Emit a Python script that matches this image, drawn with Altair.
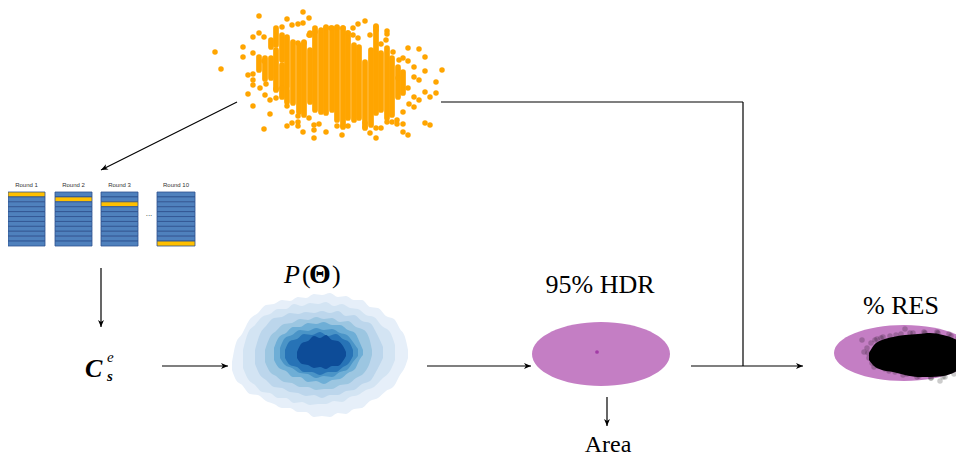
import altair as alt
import pandas as pd

# ---------------- data (pixel coordinates) ----------------
# orange cloud: dense vertical runs of dots (x, top, bottom)
col_x   = [259, 265, 271, 271, 276, 276, 282, 282, 287, 287, 293, 299, 304, 310, 310, 315, 321, 326,
           332, 337, 343, 348, 354, 359, 365, 371, 376, 381, 387, 392, 398, 403]
col_top = [57, 58, 40, 58, 28, 50, 35, 65, 37, 90, 42, 45, 42, 33, 50, 28, 32, 27,
           28, 27, 28, 33, 45, 47, 62, 50, 26, 53, 48, 58, 67, 72]
col_bot = [70, 79, 47, 78, 45, 90, 60, 97, 87, 102, 103, 112, 115, 35, 102, 110, 112, 113,
           110, 120, 127, 118, 120, 118, 128, 125, 113, 110, 118, 115, 97, 93]
# scattered orange dots
dot_x = [215, 221, 259, 303, 309, 287, 292, 298, 303, 282, 253, 259, 264, 243, 243, 253, 264,
         248, 253, 253, 253, 248, 253, 270, 264, 276, 282, 287, 287, 292, 298, 298, 303, 309,
         314, 314, 314, 319, 326, 337, 343, 348, 342, 365, 365, 370, 376, 376, 381, 387, 392,
         397, 397, 403, 403, 408, 414, 414, 419, 419, 425, 430, 436, 436, 442, 425, 425, 419,
         408, 414, 414, 403, 408, 425, 430, 365, 358, 353, 376, 376, 387, 387, 370, 348, 353,
         358, 331, 337, 343, 326, 321, 315, 309, 304, 298, 270, 276, 265, 260, 266, 292, 298,
         399, 393, 398, 408, 409, 403, 386, 381]
dot_y = [52, 69, 16, 12, 18, 19, 25, 24, 23, 27, 37, 33, 37, 47, 57, 53, 61,
         75, 74, 80, 85, 94, 106, 114, 129, 89, 88, 106, 126, 123, 122, 126, 132, 118,
         125, 130, 138, 124, 132, 126, 126, 126, 135, 123, 127, 133, 138, 128, 128, 122, 122,
         120, 124, 124, 132, 135, 107, 97, 100, 80, 92, 97, 82, 93, 70, 71, 57, 49,
         48, 67, 77, 58, 61, 123, 125, 21, 24, 28, 27, 30, 31, 34, 35, 33, 35,
         38, 28, 28, 28, 28, 30, 32, 35, 43, 43, 100, 98, 95, 88, 84, 112, 116,
         60, 52, 78, 88, 104, 112, 40, 44]

# round tables
round_labels = ["Round 1", "Round 2", "Round 3", "Round 10"]
table_left = [8, 55, 101, 157]
table_right = [45, 92, 138, 195]
table_top, table_bottom, n_rows = 192, 246, 11
yellow_row = [0, 1, 2, 10]

# density contour levels P(Theta): x samples with top / bottom edge
contour_colors = ["#e6eff9", "#d3e4f3", "#bcd6ec", "#9cc6e1", "#6eaed6",
                  "#4a94c7", "#2773b6", "#0d4c98"]
contour_x = [
    [232, 236, 242, 250, 258, 266, 274, 282, 290, 298, 306, 314, 322, 330, 338, 346, 354, 362, 370, 378, 386, 394, 400, 405, 408],
    [243, 248, 255, 262, 270, 278, 286, 294, 302, 310, 318, 326, 334, 342, 350, 358, 366, 374, 382, 390, 395],
    [255, 260, 266, 274, 282, 290, 298, 306, 314, 322, 330, 338, 346, 354, 362, 370, 377, 383],
    [265, 270, 276, 284, 292, 300, 308, 316, 324, 332, 340, 348, 356, 364, 370, 372],
    [274, 279, 286, 293, 300, 308, 316, 324, 332, 340, 348, 355, 360, 363],
    [280, 285, 292, 300, 308, 316, 324, 332, 340, 347, 353, 358],
    [285, 290, 297, 304, 312, 320, 328, 336, 343, 349, 353],
    [297, 302, 308, 314, 320, 326, 332, 338, 343, 346],
]
contour_top = [
    [362, 343, 334, 319, 313, 305, 304, 300, 301, 297, 298, 294, 295, 293, 297, 296, 300, 300, 307, 308, 316, 319, 329, 337, 350],
    [350, 333, 325, 317, 314, 309, 309, 304, 306, 303, 304, 302, 306, 304, 308, 309, 315, 317, 326, 332, 345],
    [350, 334, 326, 318, 317, 313, 314, 312, 313, 311, 313, 311, 316, 315, 321, 323, 334, 347],
    [350, 337, 331, 324, 323, 319, 320, 317, 319, 318, 322, 321, 327, 330, 341, 350],
    [348, 337, 333, 327, 327, 323, 324, 322, 325, 325, 330, 333, 343, 350],
    [348, 338, 335, 330, 331, 328, 330, 329, 333, 335, 342, 349],
    [350, 341, 339, 334, 335, 332, 336, 334, 339, 342, 350],
    [352, 343, 341, 336, 338, 335, 340, 341, 346, 352],
]
contour_bot = [
    [370, 380, 385, 394, 395, 401, 404, 408, 408, 412, 412, 417, 416, 417, 413, 414, 409, 408, 401, 398, 391, 386, 375, 367, 358],
    [368, 379, 385, 392, 393, 398, 398, 403, 402, 405, 404, 404, 401, 402, 397, 395, 390, 387, 379, 371, 360],
    [364, 375, 380, 387, 388, 392, 393, 396, 395, 398, 395, 395, 391, 390, 384, 381, 370, 358],
    [362, 372, 376, 382, 383, 387, 387, 390, 389, 389, 385, 384, 378, 373, 362, 355],
    [360, 368, 371, 377, 377, 382, 381, 384, 380, 379, 373, 369, 359, 355],
    [358, 365, 368, 373, 374, 378, 376, 377, 372, 370, 362, 356],
    [358, 365, 367, 372, 372, 375, 372, 372, 367, 363, 356],
    [358, 364, 365, 368, 367, 369, 366, 366, 361, 356],
]

# purple regions (centre x, centre y, half width, half height)
ellipse_cx = [601, 904]
ellipse_cy = [354, 353]
ellipse_rx = [69, 70]
ellipse_ry = [32, 28]

# black residual cloud core inside "% RES"
res_x   = [869, 874, 882, 893, 905, 918, 930, 943, 955, 964]
res_top = [353, 345, 340, 337, 335, 334, 333, 335, 339, 345]
res_bot = [360, 366, 370, 372, 375, 377, 377, 376, 372, 366]
# translucent fuzzy edge of the residual cloud
res_dot_x = [867, 868, 869, 871, 872, 875, 878, 881, 885, 890, 895, 901, 907, 913, 919, 925, 931, 937, 943, 949, 954,
             958, 877, 883, 889, 896, 903, 910, 917, 924, 931, 938, 945, 951, 864, 874, 862, 940, 905]
res_dot_y = [348, 353, 358, 343, 363, 340, 366, 338, 369, 336, 372, 334, 374, 333, 376, 333, 378, 332, 377, 334, 374,
             338, 339, 337, 371, 335, 375, 333, 377, 332, 378, 333, 377, 336, 352, 367, 340, 381, 329]

# connecting lines (x1, y1, x2, y2)
seg_x1 = [237, 101, 162, 427, 607, 441, 743, 691]
seg_y1 = [102, 268, 366, 366, 397, 102, 102, 366]
seg_x2 = [101, 101, 228, 531, 607, 743, 743, 803]
seg_y2 = [170, 327, 366, 366, 426, 102, 366, 366]
# arrow heads (tip x, tip y, angle)
head_x = [101, 101, 228, 531, 607, 803]
head_y = [170, 327, 366, 366, 426, 366]
head_a = [153.4, 90, 0, 0, 90, 0]

SERIF = "Liberation Serif, DejaVu Serif, serif"

# ---------------- scales ----------------
xs = alt.Scale(domain=[8, 956], nice=False, zero=False)
ys = alt.Scale(domain=[8, 458], nice=False, zero=False, reverse=True)


def X(f):
    return alt.X(f, type="quantitative", scale=xs, axis=None)


def Y(f):
    return alt.Y(f, type="quantitative", scale=ys, axis=None)


def ellipse_path(k):
    c = 0.5523
    return (f"M-1,0 C-1,{-k*c:.4f} {-c},{-k:.4f} 0,{-k:.4f} C{c},{-k:.4f} 1,{-k*c:.4f} 1,0 "
            f"C1,{k*c:.4f} {c},{k:.4f} 0,{k:.4f} C{-c},{k:.4f} -1,{k*c:.4f} -1,0 Z")


def txt(s, x, y, size, style="normal", weight="normal", font=SERIF,
        align="center", color="black"):
    df = pd.DataFrame({"x": [x], "y": [y], "t": [s]})
    return alt.Chart(df).mark_text(
        font=font, fontSize=size, fontStyle=style, fontWeight=weight,
        align=align, baseline="alphabetic", color=color
    ).encode(x=X("x"), y=Y("y"), text="t:N")


layers = []

# orange cloud
cols = pd.DataFrame({"x": col_x, "y1": col_top, "y2": col_bot})
layers.append(alt.Chart(cols).mark_rule(color="#ffa500", strokeWidth=5.7, strokeCap="round")
              .encode(x=X("x"), y=Y("y1"), y2=alt.Y2("y2")))
dots = pd.DataFrame({"x": dot_x, "y": dot_y})
layers.append(alt.Chart(dots).mark_circle(color="#ffa500", size=30, opacity=1)
              .encode(x=X("x"), y=Y("y")))

# tables
rows = []
for i, (l, r) in enumerate(zip(table_left, table_right)):
    h = (table_bottom - table_top) / n_rows
    for j in range(n_rows):
        rows.append({"x1": l, "x2": r, "y1": table_top + j * h, "y2": table_top + (j + 1) * h,
                     "c": "#ffc000" if j == yellow_row[i] else "#4f81bd"})
layers.append(alt.Chart(pd.DataFrame(rows)).mark_rect(stroke="#2f528f", strokeWidth=0.8)
              .encode(x=X("x1"), x2=alt.X2("x2"), y=Y("y1"), y2=alt.Y2("y2"),
                      color=alt.Color("c:N", scale=None)))
for lab, l, r in zip(round_labels, table_left, table_right):
    layers.append(txt(lab, (l + r) / 2, 187, 6, font="Liberation Sans", color="#333333"))
layers.append(txt("...", 149, 216, 8, font="Liberation Sans", color="#333333"))

# density contours
for col, xx, tt, bb in zip(contour_colors, contour_x, contour_top, contour_bot):
    df = pd.DataFrame({"x": xx, "t": tt, "b": bb})
    layers.append(alt.Chart(df).mark_area(color=col, opacity=1, interpolate="monotone")
                  .encode(x=X("x"), y=Y("t"), y2=alt.Y2("b")))

# purple ellipses
for cx, cy, rx, ry in zip(ellipse_cx, ellipse_cy, ellipse_rx, ellipse_ry):
    df = pd.DataFrame({"x": [cx], "y": [cy]})
    layers.append(alt.Chart(df).mark_point(shape=ellipse_path(ry / rx), size=(2 * rx) ** 2,
                                           filled=True, color="#c47ec4", opacity=1, strokeWidth=0)
                  .encode(x=X("x"), y=Y("y")))
layers.append(alt.Chart(pd.DataFrame({"x": [597], "y": [352]}))
              .mark_circle(color="#a23ca6", size=14, opacity=1).encode(x=X("x"), y=Y("y")))

# black residual cloud
rd = pd.DataFrame({"x": res_dot_x, "y": res_dot_y})
layers.append(alt.Chart(rd).mark_circle(color="black", size=30, opacity=0.2)
              .encode(x=X("x"), y=Y("y")))
res = pd.DataFrame({"x": res_x, "t": res_top, "b": res_bot})
layers.append(alt.Chart(res).mark_area(color="black", opacity=1, interpolate="monotone")
              .encode(x=X("x"), y=Y("t"), y2=alt.Y2("b")))

# lines and arrow heads
segs = pd.DataFrame({"x1": seg_x1, "y1": seg_y1, "x2": seg_x2, "y2": seg_y2})
layers.append(alt.Chart(segs).mark_rule(color="black", strokeWidth=1.2)
              .encode(x=X("x1"), y=Y("y1"), x2=alt.X2("x2"), y2=alt.Y2("y2")))
heads = pd.DataFrame({"x": head_x, "y": head_y, "a": head_a})
layers.append(alt.Chart(heads).mark_point(shape="M0,0 L-2,-0.85 L-1.45,0 L-2,0.85 Z", size=49,
                                          filled=True, color="black", opacity=1, strokeWidth=0)
              .encode(x=X("x"), y=Y("y"), angle=alt.Angle("a:Q", scale=None)))

# labels
layers.append(txt("C", 85, 377, 26, style="italic", weight="bold", align="left"))
layers.append(txt("e", 107, 362, 15, style="italic", align="left"))
layers.append(txt("s", 107, 381, 15, style="italic", weight="bold", align="left"))
layers.append(txt("P", 284, 283, 26, style="italic", align="left"))
layers.append(txt("(", 302, 283, 26, align="left"))
layers.append(txt("Θ", 309, 283, 28, weight="bold", align="left"))
layers.append(txt(")", 332, 283, 26, align="left"))
layers.append(txt("95% HDR", 600, 293, 26))
layers.append(txt("% RES", 901, 314, 26))
layers.append(txt("Area", 608, 452, 24))

chart = alt.layer(*layers).properties(
    width=948, height=450, padding=0,
    autosize=alt.AutoSizeParams(type="none"),
    background="white",
).configure_view(stroke=None)

chart.save("out.html", embed_options={"renderer": "svg", "actions": False})
